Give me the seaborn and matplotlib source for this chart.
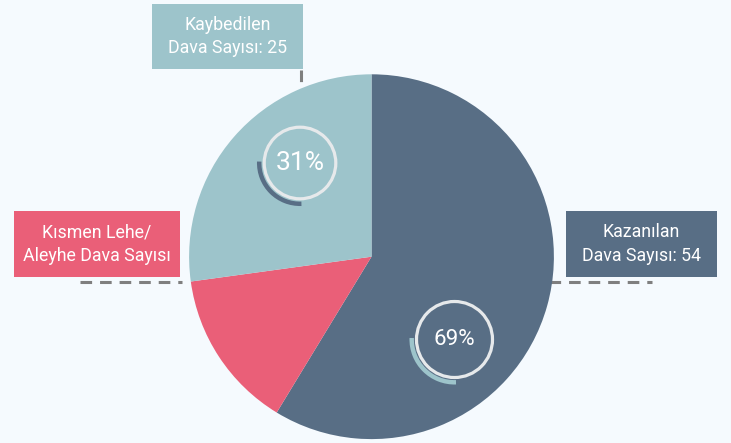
import matplotlib
matplotlib.use("Agg")
import matplotlib.pyplot as plt
from matplotlib.patches import Rectangle, Arc, Circle
import seaborn as sns

# --- data -------------------------------------------------------------
categories = ["Kazanılan", "Kısmen Lehe/Aleyhe", "Kaybedilen"]
case_counts = [54, 13, 25]          # partial outcome count has no printed figure
box_labels = ["Kazanılan\nDava Sayısı: 54",
              "Kısmen Lehe/\nAleyhe Dava Sayısı",
              "Kaybedilen\nDava Sayısı: 25"]
ratio_labels = ["69%", "31%"]       # share of won / lost among decided cases

# --- style ------------------------------------------------------------
sns.set_style("white")
plt.rcParams["font.family"] = ["Roboto", "DejaVu Sans"]

BG = "#F5FAFE"
palette = sns.color_palette(["#586E85", "#EA5F78", "#9DC4CB"])
DASH = "#7F7F7F"
RING = "#E6E9EB"

W, H = 731, 443
fig = plt.figure(figsize=(W / 100, H / 100), dpi=100, facecolor=BG)
ax = fig.add_axes([0, 0, 1, 1])
ax.set_facecolor(BG)


def py(y):
    """pixel row (top-down) -> data y (bottom-up)"""
    return H - y


# pie
cx, cy, R = 371.5, py(256.7), 182.4
ax.pie(case_counts, colors=palette, startangle=90, counterclock=False,
       center=(cx, cy), radius=R, frame=True,
       wedgeprops=dict(linewidth=0, antialiased=True))

# dashed leader lines (behind the pie)
dash_kw = dict(color=DASH, lw=2.2, ls=(0, (3.8, 2.6)), solid_capstyle="butt",
               dash_capstyle="butt", zorder=0)
ax.plot([80, 182], [py(281.5), py(281.5)], **dash_kw)
ax.plot([549, 652], [py(281.5), py(281.5)], **dash_kw)
ax.plot([301, 301], [py(70), py(92)], **dash_kw)

# label boxes
boxes = [
    (566, 211, 151, 66, palette[0], box_labels[0]),
    (14, 211, 166, 66, palette[1], box_labels[1]),
    (152, 4, 151, 65, palette[2], box_labels[2]),
]
for x0, y0, w, h, col, txt in boxes:
    ax.add_patch(Rectangle((x0, py(y0 + h)), w, h, facecolor=col,
                           edgecolor="none", zorder=3))
    ax.text(x0 + w / 2, py(y0 + h / 2), txt, ha="center", va="center",
            color="white", fontsize=12.8, fontweight="normal",
            linespacing=1.4, zorder=4)

# ratio gauges
gauges = [
    # centre x, centre y, ring r, arc r, arc colour, font size, label
    (454.5, 339.5, 38.0, 42.8, palette[2], 16, ratio_labels[0]),
    (300.0, 163.0, 35.8, 40.8, palette[0], 19, ratio_labels[1]),
]
for gx, gy, rr, ar, acol, fs, lab in gauges:
    ax.add_patch(Circle((gx, py(gy)), rr, fill=False, edgecolor=RING,
                        lw=2.3, zorder=5))
    ax.add_patch(Arc((gx, py(gy)), 2 * ar, 2 * ar, theta1=178, theta2=272,
                     color=acol, lw=3.2, zorder=5, capstyle="butt"))
    ax.text(gx, py(gy), lab, ha="center", va="center", color="white",
            fontsize=fs, fontweight="normal", zorder=6)

ax.set_xlim(0, W)
ax.set_ylim(0, H)
ax.set_aspect("equal")
ax.axis("off")

fig.savefig("out.png", dpi=100, facecolor=BG)
